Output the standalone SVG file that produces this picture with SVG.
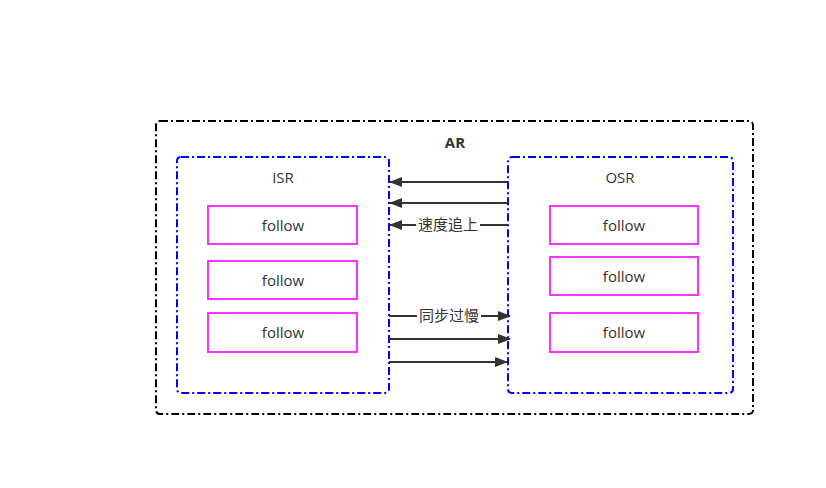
<svg xmlns="http://www.w3.org/2000/svg" width="826" height="488" viewBox="0 0 826 488">
<style>
.ar{fill:none;stroke:#000;stroke-width:2;stroke-dasharray:8 3 2 3}
.grp{fill:none;stroke:#0000ff;stroke-width:2;stroke-dasharray:8 3 2 3}
.fol{fill:#fff;stroke:#ff33ff;stroke-width:2}
.t{font-family:"Open Sans","Noto Sans","Noto Sans CJK SC",sans-serif;font-size:15px;fill:#333;text-anchor:middle;dominant-baseline:central}
.c{stroke:#333;stroke-width:2;fill:none;marker-end:url(#ah)}
</style>
<defs>
<marker id="ah" markerWidth="13" markerHeight="10" refX="12" refY="5" orient="auto" markerUnits="userSpaceOnUse">
<path d="M0,0 L13,5 L0,10 Z" fill="#333"/>
</marker>
</defs>
<rect width="826" height="488" fill="#fff"/>
<g id="AR">
<rect class="ar" x="156" y="121" width="597" height="293" rx="4"/>
<text class="t" x="455" y="142" style="font-weight:bold">AR</text>
</g>
<g id="ISR">
<rect class="grp" x="177" y="157" width="212" height="236" rx="4"/>
<text class="t" x="283" y="177">ISR</text>
</g>
<g id="OSR">
<rect class="grp" x="508" y="157" width="225" height="236" rx="4"/>
<text class="t" x="620" y="177">OSR</text>
</g>
<g id="isr-f1"><rect class="fol" x="208" y="206" width="149" height="38"/><text class="t" x="283" y="225">follow</text></g>
<g id="isr-f2"><rect class="fol" x="208" y="261" width="149" height="38"/><text class="t" x="283" y="280">follow</text></g>
<g id="isr-f3"><rect class="fol" x="208" y="313" width="149" height="39"/><text class="t" x="283" y="332">follow</text></g>
<g id="osr-f1"><rect class="fol" x="550" y="206" width="148" height="38"/><text class="t" x="624" y="225">follow</text></g>
<g id="osr-f2"><rect class="fol" x="550" y="257" width="148" height="38"/><text class="t" x="624" y="276">follow</text></g>
<g id="osr-f3"><rect class="fol" x="550" y="313" width="148" height="39"/><text class="t" x="624" y="332">follow</text></g>
<g id="connectors">
<line class="c" x1="508" y1="182" x2="390" y2="182"/>
<line class="c" x1="508" y1="203" x2="390" y2="203"/>
<line class="c" x1="508" y1="225" x2="390" y2="225"/>
<rect x="416" y="215" width="64" height="20" fill="#fff"/>
<text class="t" x="448" y="224">速度追上</text>
<line class="c" x1="389" y1="316" x2="510" y2="316"/>
<line class="c" x1="389" y1="339" x2="510" y2="339"/>
<line class="c" x1="389" y1="362" x2="507" y2="362"/>
<rect x="417" y="306" width="64" height="20" fill="#fff"/>
<text class="t" x="449" y="315">同步过慢</text>
</g>
</svg>
